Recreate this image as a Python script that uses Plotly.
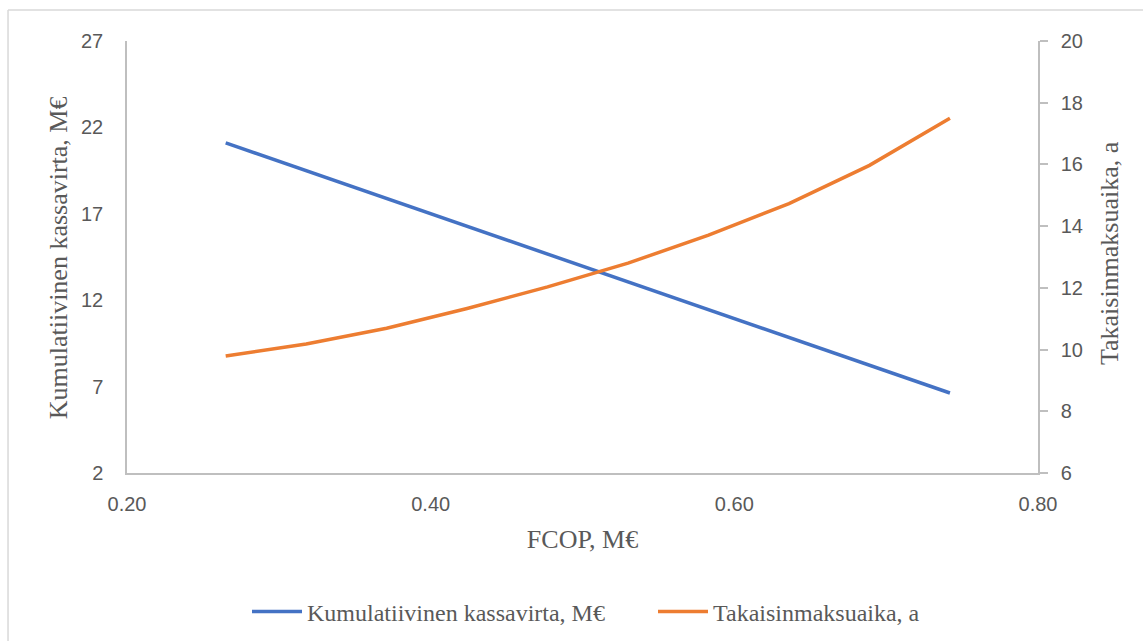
import plotly.graph_objects as go

fcop = [0.265, 0.318, 0.371, 0.424, 0.477, 0.530, 0.583, 0.636, 0.689, 0.742]
kassavirta = [21.10, 19.49, 17.88, 16.28, 14.67, 13.06, 11.45, 9.85, 8.24, 6.63]
takaisinmaksuaika = [9.79, 10.18, 10.69, 11.33, 12.03, 12.80, 13.71, 14.73, 15.97, 17.50]

name_blue = "Kumulatiivinen kassavirta, M€"
name_orange = "Takaisinmaksuaika, a"
title_x = "FCOP, M€"
title_y = "Kumulatiivinen kassavirta, M€"
title_y2 = "Takaisinmaksuaika, a"

GRAY = "#595959"
AXIS = "#bfbfbf"
SERIF = "Liberation Serif"
SANS = "Liberation Sans"

fig = go.Figure()
fig.add_trace(go.Scatter(x=fcop, y=kassavirta, mode="lines", name=name_blue,
                         line=dict(color="#4472C4", width=3.5), yaxis="y"))
fig.add_trace(go.Scatter(x=fcop, y=takaisinmaksuaika, mode="lines", name=name_orange,
                         line=dict(color="#ED7D31", width=3.5), yaxis="y2"))

fig.update_layout(
    width=1143, height=641,
    margin=dict(l=127, r=105, t=41, b=168, autoexpand=False),
    paper_bgcolor="white", plot_bgcolor="white",
    showlegend=True,
    legend=dict(orientation="h", xref="container", x=247 / 1143, xanchor="left",
                yref="container", y=1 - 612 / 641, yanchor="middle",
                font=dict(family=SERIF, size=24, color=GRAY),
                itemwidth=50, entrywidth=341, entrywidthmode="pixels"),
    xaxis=dict(range=[0.2, 0.8], tick0=0.2, dtick=0.2, tickformat=".2f",
               showgrid=False, zeroline=False, showline=True, linecolor=AXIS, linewidth=1.5,
               ticks="", tickfont=dict(family=SANS, size=20, color=GRAY),
               ticklabelstandoff=12,
               title=dict(text=title_x, font=dict(family=SERIF, size=26, color=GRAY), standoff=16)),
    yaxis=dict(range=[2, 27], tick0=2, dtick=5, showgrid=False, zeroline=False,
               showline=True, linecolor=AXIS, linewidth=1.5, ticks="",
               tickfont=dict(family=SANS, size=20, color=GRAY), ticklabelstandoff=18),
    yaxis2=dict(range=[6, 20], tick0=6, dtick=2, overlaying="y", side="right",
                showgrid=False, zeroline=False, showline=True, linecolor=AXIS, linewidth=1.5,
                ticks="outside", ticklen=8, tickcolor=AXIS, tickwidth=1.5,
                tickfont=dict(family=SANS, size=20, color=GRAY), ticklabelstandoff=9),
    annotations=[
        dict(text=title_y, xref="paper", yref="paper", x=(58 - 127) / 911, y=0.497,
             xanchor="center", yanchor="middle", textangle=-90, showarrow=False,
             font=dict(family=SERIF, size=26, color=GRAY)),
        dict(text=title_y2, xref="paper", yref="paper", x=(1109 - 127) / 911, y=0.509,
             xanchor="center", yanchor="middle", textangle=-90, showarrow=False,
             font=dict(family=SERIF, size=26, color=GRAY)),
    ],
    shapes=[
        dict(type="line", xref="paper", yref="paper", x0=-0.1306, x1=1.2, y0=1.0718, y1=1.0718,
             line=dict(color="#d9d9d9", width=1.5)),
        dict(type="line", xref="paper", yref="paper", x0=-0.1306, x1=-0.1306, y0=1.0718, y1=-0.5,
             line=dict(color="#d9d9d9", width=1.5)),
    ],
)

fig.write_html("out.html")
